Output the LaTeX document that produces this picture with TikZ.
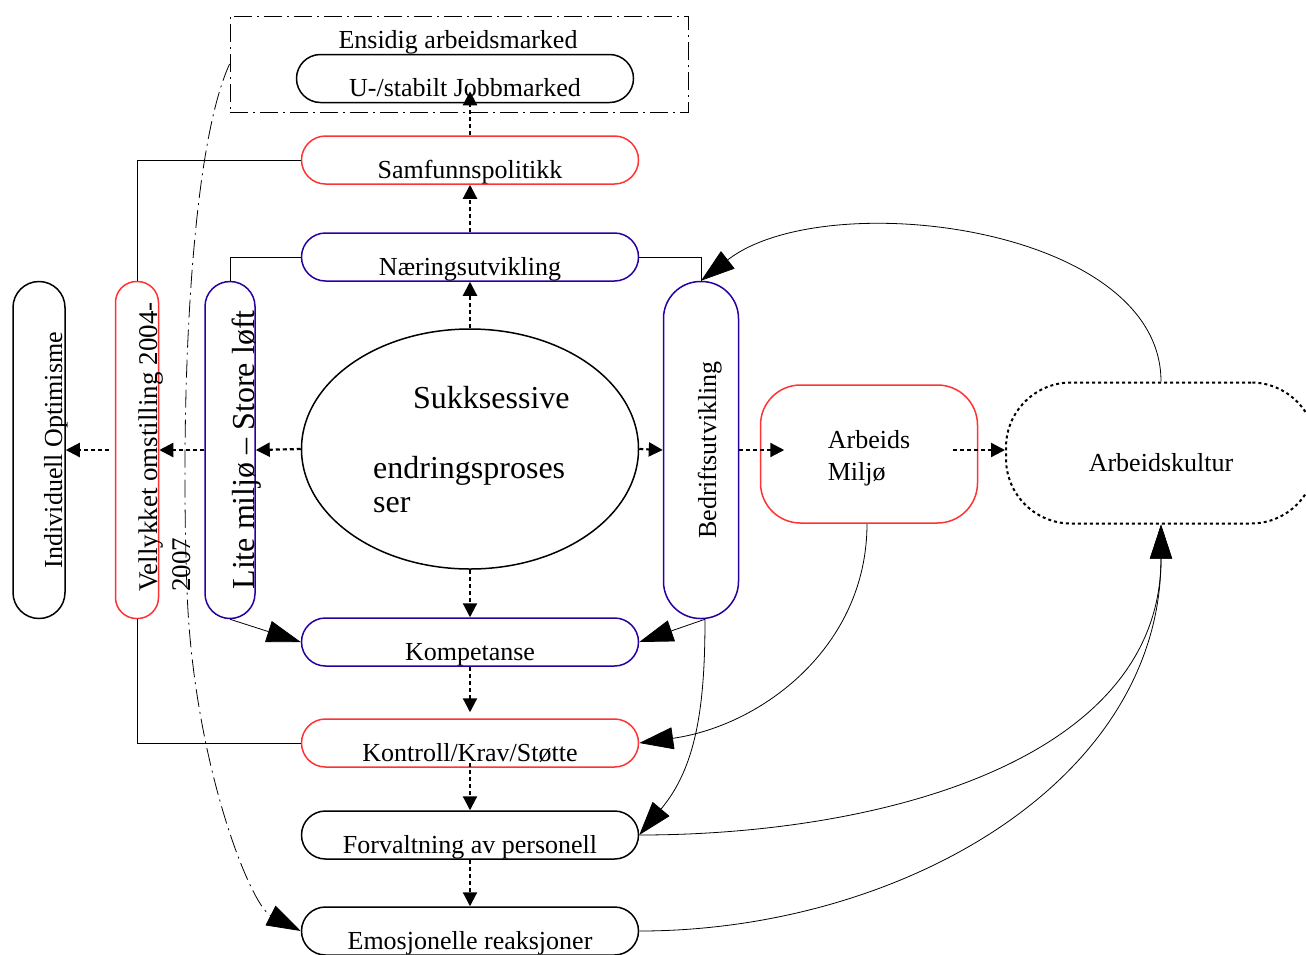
\documentclass[tikz,border=0pt]{standalone}
\usepackage{fontspec}
\setmainfont{Liberation Serif}
\usetikzlibrary{arrows.meta}
\usetikzlibrary{shapes.geometric}
\definecolor{boxred}{RGB}{255,51,51}
\definecolor{boxblue}{RGB}{40,0,160}
\newcommand{\midfont}{\fontsize{26}{30}\selectfont}
\newcommand{\velfont}{\fontsize{27}{33}\selectfont}
\newcommand{\bigfont}{\fontsize{32}{34}\selectfont}

\begin{document}
\begin{tikzpicture}[x=1pt, y=1pt,
    pill/.style={draw, rounded corners=24pt, line width=1.5pt, minimum width=337pt,
                 minimum height=48pt, inner sep=0pt, text height=36pt, text depth=0pt, font=\midfont},
    vpill/.style={draw, rotate=90, line width=1.5pt, inner sep=0pt, minimum width=337pt, text depth=0pt},
    dots/.style={line width=2.2pt, dash pattern=on 4pt off 3pt, -{Triangle[length=14pt,width=14pt]}},
    link/.style={line width=0.8pt},
    bigarr/.style={link, -{Triangle[length=34pt,width=22pt]}},
    dashdot/.style={line width=0.8pt, dash pattern=on 18pt off 5pt on 2pt off 5pt}]
          \useasboundingbox (0,0) rectangle (1306,-954);

          \node[draw, dashdot, minimum width=458pt, minimum height=96pt, inner sep=0pt] (ensidig) at (459,-64) {};
          \node[anchor=base, inner sep=0pt, font=\midfont] (ensidigtxt) at (458,-48) {Ensidig arbeidsmarked};
          \node[pill] (jobb) at (465,-78.5) {U-/stabilt Jobbmarked};
          \node[pill, draw=boxred]  (samf) at (470,-160) {Samfunnspolitikk};
          \node[pill, draw=boxblue] (naer) at (470,-257) {Næringsutvikling};
          \node[pill, draw=boxblue] (komp) at (470,-642) {Kompetanse};
          \node[pill, draw=boxred]  (kont) at (470,-743) {Kontroll/Krav/Støtte};
          \node[pill] (forv) at (470,-835) {Forvaltning av personell};
          \node[pill] (emo)  at (470,-931) {Emosjonelle reaksjoner};

          \node[vpill, minimum height=52pt, rounded corners=26pt, text height=46pt, font=\midfont]
                (indiv) at (39,-450) {Individuell Optimisme};
          \node[vpill, draw=boxred, minimum height=43pt, rounded corners=21pt] (vel) at (137,-450) {};
          \node[rotate=90, anchor=north west, align=left, inner sep=0pt, font=\velfont]
                (veltxt) at (139,-592) {Vellykket omstilling 2004-\\2007};
          \node[vpill, draw=boxblue, minimum height=50pt, rounded corners=25pt, text height=48pt, font=\bigfont]
                (lite) at (230,-450) {Lite miljø – Store løft};
          \node[vpill, draw=boxblue, minimum height=75pt, rounded corners=37pt, text height=30pt, font=\midfont]
                (bedr) at (701,-450) {Bedriftsutvikling};

          \node[draw, ellipse, line width=1.5pt, minimum width=337pt, minimum height=240pt] (sukk) at (470,-449) {};
          \node[anchor=north west, align=left, inner sep=0pt, font=\bigfont]
                (sukktxt) at (373,-386) {\hspace*{40pt}Sukksessive\\[36pt]endringsproses\\ser};

          \node[draw=boxred, line width=1.5pt, rounded corners=40pt, minimum width=217pt, minimum height=138pt,
                align=left, font=\midfont] (arbm) at (869,-454) {\\[-4pt]Arbeids\\[2pt]Miljø};
          \node[draw, line width=2pt, dash pattern=on 3pt off 3pt, rounded corners=65pt, minimum width=310pt,
                minimum height=141pt, inner sep=0pt, text height=36pt, text depth=0pt, font=\midfont]
                (arbk) at (1161,-453) {Arbeidskultur};

          % Draw the edges
          \draw[dots] (sukk.north) -- (naer.south);
          \draw[dots] (naer.north) -- (samf.south);
          \draw[dots] (samf.north) -- ++(0,44);
          \draw[dots] (sukk.west) -- (lite.south);
          \draw[dots] (lite.north) -- (vel.south);
          \draw[dots] ([xshift=-6pt]vel.north) -- (indiv.south);
          \draw[dots] (sukk.east) -- (bedr.north);
          \draw[dots] (bedr.south) -- ++(45,0);
          \draw[dots] (arbm.east |- bedr.south) ++(-25,0) -- (arbk.west |- bedr.south);
          \draw[dots] (sukk.south) -- (komp.north);
          \draw[dots] (komp.south) -- ([yshift=6pt]kont.north);
          \draw[dots] ([yshift=-20pt]kont.center) -- (forv.north);
          \draw[dots] (forv.south) -- (emo.north);

          \draw[link] (samf.west) -| (vel.east);
          \draw[link] (kont.west) -| (vel.west);
          \draw[link] (naer.west) -| (lite.east);
          \draw[link] (naer.east) -| (bedr.east);
          \draw[bigarr] (lite.west) -- (komp.west);
          \draw[bigarr] ([xshift=4pt]bedr.west) -- (komp.east);
          \draw[bigarr] ([xshift=4pt]bedr.west) to[out=-90, in=50] (forv.east);
          \draw[bigarr] ([xshift=-2pt]arbm.south) to[out=-90, in=8] (kont.east);
          \draw[bigarr] (arbk.north) to[out=90, in=38, looseness=0.85] (bedr.east);
          \draw[bigarr] (forv.east) to[out=0, in=-90] (arbk.south);
          \draw[bigarr] (emo.east) to[out=0, in=-90] (arbk.south);

          \draw[dashdot, -{Triangle[length=34pt,width=22pt]}] (ensidig.west)
                .. controls (190,-150) and (180,-400) .. (187,-590)
                .. controls (193,-760) and (250,-905) .. (emo.west);
      \end{tikzpicture}
\end{document}
